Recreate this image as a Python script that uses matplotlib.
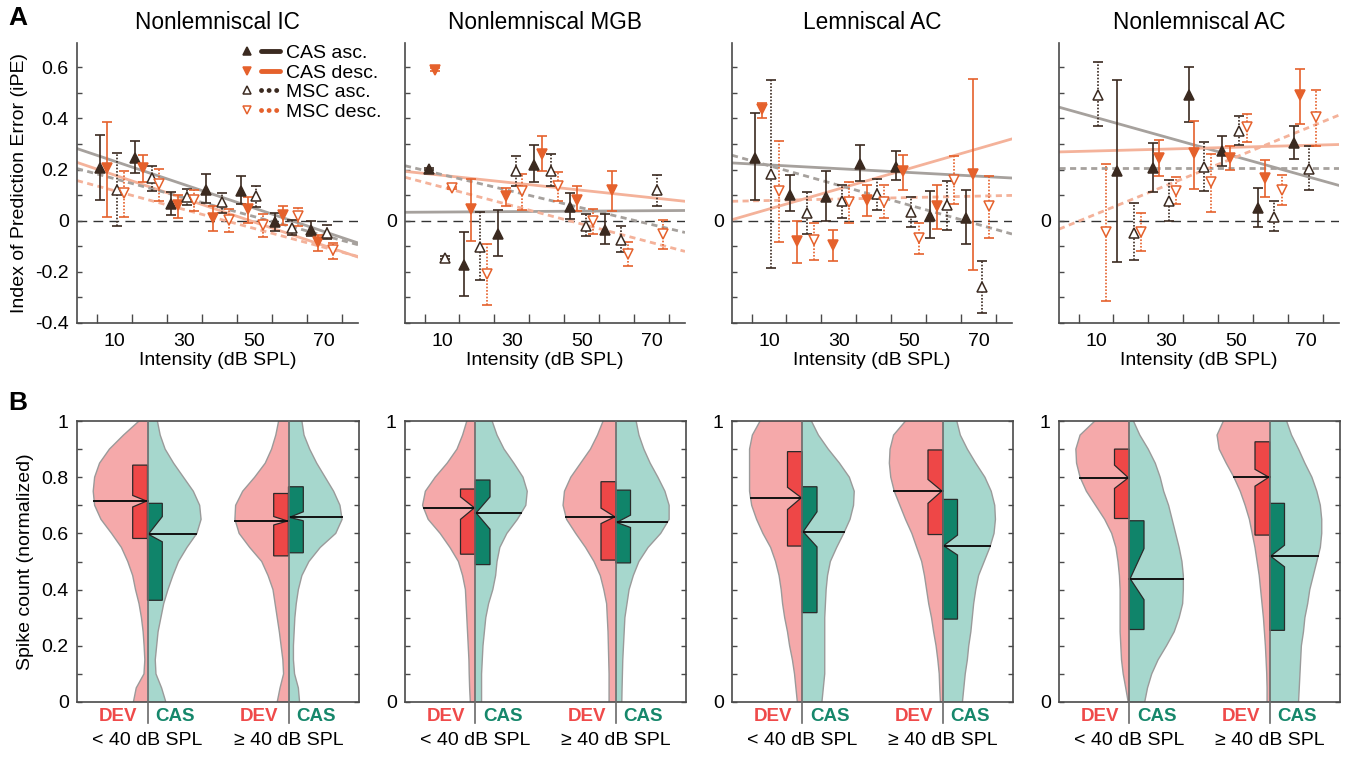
import numpy as np
import matplotlib
matplotlib.use("Agg")
import matplotlib.pyplot as plt
from matplotlib.lines import Line2D
from matplotlib.legend_handler import HandlerTuple
from matplotlib.patches import Polygon

plt.rcParams['font.family'] = ['Liberation Sans', 'DejaVu Sans']

# ---------------- Panel A data: (intensity, iPE, lower, upper) ----------------
ic_cas_asc = [(6.0, 0.206, 0.082, 0.337), (16.0, 0.245, 0.187, 0.313), (26.2, 0.067, 0.023, 0.111),
              (36.2, 0.121, 0.069, 0.183), (46.2, 0.115, 0.067, 0.174), (56.0, -0.005, -0.039, 0.030),
              (66.2, -0.035, -0.061, -0.003)]
ic_cas_desc = [(8.0, 0.206, 0.014, 0.385), (18.1, 0.206, 0.150, 0.258), (28.1, 0.060, 0.010, 0.102),
               (38.1, 0.010, -0.042, 0.056), (48.1, 0.047, -0.009, 0.093), (58.1, 0.023, -0.018, 0.056),
               (68.1, -0.084, -0.117, -0.056)]
ic_msc_asc = [(10.7, 0.121, -0.020, 0.265), (20.7, 0.166, 0.117, 0.215), (30.7, 0.093, 0.060, 0.124),
              (40.8, 0.072, 0.030, 0.108), (50.6, 0.095, 0.054, 0.137), (60.7, -0.029, -0.057, 0.001),
              (70.7, -0.048, -0.072, -0.018)]
ic_msc_desc = [(12.9, 0.108, 0.013, 0.193), (22.9, 0.144, 0.076, 0.202), (32.9, 0.082, 0.039, 0.121),
               (42.7, 0.001, -0.046, 0.046), (52.6, -0.016, -0.064, 0.026), (62.6, 0.020, -0.022, 0.050),
               (72.6, -0.114, -0.149, -0.087)]
ic_fit = [(0.282, -0.087), (0.228, -0.142), (0.204, -0.094), (0.157, -0.140)]

mgb_cas_asc = [(6.15, 0.202, 0.197, 0.207), (16.4, -0.175, -0.296, -0.046), (26.0, -0.051, -0.137, 0.043),
               (36.4, 0.219, 0.150, 0.298), (46.6, 0.054, 0.007, 0.108), (56.8, -0.038, -0.091, 0.026)]
mgb_cas_desc = [(8.1, 0.591, 0.586, 0.597), (18.2, 0.046, -0.081, 0.163), (28.4, 0.095, 0.059, 0.128),
                (38.5, 0.262, 0.193, 0.330), (48.7, 0.082, 0.037, 0.134), (58.7, 0.121, 0.037, 0.193)]
mgb_msc_asc = [(11.0, -0.144, -0.150, -0.139), (20.9, -0.103, -0.231, 0.033), (31.1, 0.193, 0.137, 0.255),
               (41.2, 0.196, 0.137, 0.262), (51.3, -0.020, -0.061, 0.026), (61.2, -0.074, -0.124, -0.022),
               (71.5, 0.119, 0.059, 0.178)]
mgb_msc_desc = [(12.9, 0.128, 0.123, 0.133), (23.0, -0.208, -0.329, -0.091), (33.0, 0.115, 0.043, 0.184),
                (43.3, 0.134, 0.076, 0.191), (53.2, 0.000, -0.052, 0.046), (63.3, -0.129, -0.179, -0.085),
                (73.4, -0.052, -0.111, 0.001)]
mgb_fit = [(0.033, 0.040), (0.193, 0.076), (0.215, -0.046), (0.170, -0.120)]

lac_cas_asc = [(5.95, 0.245, 0.080, 0.422), (16.0, 0.102, 0.037, 0.180), (26.2, 0.093, 0.000, 0.193),
               (36.2, 0.222, 0.154, 0.298), (46.3, 0.209, 0.158, 0.272), (56.1, 0.017, -0.068, 0.115),
               (66.3, 0.010, -0.090, 0.121)]
lac_cas_desc = [(8.1, 0.437, 0.402, 0.461), (18.1, -0.081, -0.166, -0.003), (28.2, -0.094, -0.159, -0.035),
                (38.2, 0.082, 0.017, 0.138), (48.3, 0.193, 0.119, 0.258), (58.2, 0.056, -0.033, 0.138),
                (68.5, 0.184, -0.192, 0.555)]
lac_msc_asc = [(10.5, 0.184, -0.185, 0.552), (20.8, 0.030, -0.051, 0.111), (30.8, 0.076, 0.010, 0.141),
               (40.8, 0.104, 0.040, 0.163), (50.7, 0.034, -0.026, 0.091), (60.9, 0.063, -0.035, 0.157),
               (71.1, -0.260, -0.359, -0.159)]
lac_msc_desc = [(12.8, 0.115, -0.084, 0.311), (22.9, -0.077, -0.153, -0.007), (33.0, 0.072, -0.009, 0.150),
                (42.9, 0.072, 0.010, 0.138), (53.0, -0.068, -0.129, -0.009), (63.1, 0.161, 0.065, 0.255),
                (73.0, 0.056, -0.068, 0.174)]
lac_fit = [(0.226, 0.167), (0.004, 0.320), (0.256, -0.052), (0.076, 0.099)]

nac_cas_asc = [(16.1, 0.193, -0.162, 0.552), (26.2, 0.206, 0.111, 0.304), (36.6, 0.490, 0.385, 0.600),
               (46.2, 0.272, 0.213, 0.333), (56.3, 0.050, -0.025, 0.128), (66.6, 0.304, 0.242, 0.372)]
nac_cas_desc = [(28.1, 0.245, 0.174, 0.317), (38.0, 0.265, 0.125, 0.389), (48.4, 0.245, 0.200, 0.294),
                (58.4, 0.167, 0.091, 0.239), (68.5, 0.493, 0.379, 0.594)]
nac_msc_asc = [(10.7, 0.490, 0.369, 0.620), (20.9, -0.048, -0.153, 0.069), (31.0, 0.076, 0.000, 0.158),
               (40.9, 0.209, 0.117, 0.307), (51.0, 0.352, 0.298, 0.409), (61.1, 0.013, -0.042, 0.076),
               (71.1, 0.202, 0.119, 0.291)]
nac_msc_desc = [(12.8, -0.044, -0.313, 0.222), (22.8, -0.044, -0.120, 0.030), (32.9, 0.117, 0.065, 0.170),
                (42.9, 0.150, 0.033, 0.262), (53.2, 0.366, 0.308, 0.418), (63.2, 0.121, 0.060, 0.178),
                (73.1, 0.405, 0.294, 0.510)]
nac_fit = [(0.444, 0.138), (0.269, 0.298), (0.206, 0.206), (-0.033, 0.413)]

titles = ["Nonlemniscal IC", "Nonlemniscal MGB", "Lemniscal AC", "Nonlemniscal AC"]
series_labels = ["CAS asc.", "CAS desc.", "MSC asc.", "MSC desc."]
x_ticklabels = [10, 30, 50, 70]

# ---------------- Panel B data: half-violin widths at spike count 0, 0.05, ..., 1 ----------------
levels = np.linspace(0, 1, 21)
ic_lo_dev = [0.20, 0.16, 0.05, 0.038, 0.048, 0.062, 0.086, 0.12, 0.17, 0.21, 0.28, 0.37, 0.51, 0.66, 0.75, 0.77, 0.75, 0.68, 0.54, 0.34, 0.12]
ic_lo_cas = [0.26, 0.20, 0.12, 0.11, 0.13, 0.15, 0.19, 0.23, 0.29, 0.36, 0.44, 0.56, 0.70, 0.76, 0.74, 0.65, 0.51, 0.37, 0.25, 0.18, 0.14]
ic_hi_dev = [0.16, 0.12, 0.07, 0.08, 0.105, 0.13, 0.16, 0.19, 0.22, 0.29, 0.38, 0.55, 0.70, 0.76, 0.75, 0.65, 0.48, 0.33, 0.24, 0.18, 0.14]
ic_hi_cas = [0.157, 0.14, 0.086, 0.07, 0.07, 0.08, 0.09, 0.11, 0.14, 0.19, 0.29, 0.45, 0.67, 0.76, 0.73, 0.64, 0.52, 0.40, 0.30, 0.22, 0.19]
mgb_lo_dev = [0.07, 0.08, 0.086, 0.09, 0.10, 0.11, 0.12, 0.13, 0.14, 0.18, 0.24, 0.36, 0.50, 0.67, 0.75, 0.71, 0.57, 0.40, 0.26, 0.18, 0.12]
mgb_lo_cas = [0.09, 0.09, 0.09, 0.10, 0.11, 0.13, 0.15, 0.19, 0.25, 0.29, 0.31, 0.35, 0.45, 0.60, 0.72, 0.74, 0.68, 0.55, 0.41, 0.31, 0.24]
mgb_hi_dev = [0.095, 0.095, 0.095, 0.10, 0.105, 0.11, 0.12, 0.13, 0.17, 0.22, 0.31, 0.43, 0.57, 0.70, 0.75, 0.73, 0.64, 0.50, 0.36, 0.26, 0.18]
mgb_hi_cas = [0.086, 0.09, 0.095, 0.10, 0.11, 0.12, 0.13, 0.16, 0.19, 0.25, 0.33, 0.46, 0.64, 0.76, 0.76, 0.70, 0.60, 0.49, 0.40, 0.33, 0.29]
lac_lo_dev = [0.07, 0.09, 0.11, 0.14, 0.18, 0.21, 0.25, 0.28, 0.30, 0.33, 0.38, 0.45, 0.56, 0.65, 0.72, 0.75, 0.75, 0.75, 0.75, 0.71, 0.60]
lac_lo_cas = [0.28, 0.30, 0.32, 0.32, 0.32, 0.32, 0.32, 0.33, 0.34, 0.36, 0.40, 0.49, 0.59, 0.68, 0.73, 0.74, 0.67, 0.53, 0.37, 0.23, 0.13]
lac_hi_dev = [0.033, 0.043, 0.05, 0.07, 0.095, 0.13, 0.16, 0.20, 0.23, 0.26, 0.30, 0.37, 0.44, 0.53, 0.61, 0.69, 0.74, 0.76, 0.75, 0.70, 0.53]
lac_hi_cas = [0.28, 0.30, 0.32, 0.35, 0.37, 0.40, 0.42, 0.44, 0.47, 0.51, 0.59, 0.67, 0.73, 0.75, 0.74, 0.69, 0.60, 0.47, 0.35, 0.25, 0.20]
nac_lo_dev = [0.015, 0.05, 0.086, 0.11, 0.12, 0.13, 0.13, 0.13, 0.13, 0.14, 0.16, 0.19, 0.25, 0.35, 0.48, 0.61, 0.70, 0.75, 0.76, 0.70, 0.49]
nac_lo_cas = [0.22, 0.26, 0.32, 0.41, 0.53, 0.64, 0.71, 0.76, 0.77, 0.77, 0.75, 0.71, 0.66, 0.61, 0.56, 0.49, 0.44, 0.37, 0.27, 0.15, 0.06]
nac_hi_dev = [0.038, 0.038, 0.043, 0.052, 0.062, 0.076, 0.09, 0.11, 0.13, 0.15, 0.18, 0.21, 0.25, 0.29, 0.35, 0.42, 0.51, 0.62, 0.72, 0.75, 0.66]
nac_hi_cas = [0.41, 0.42, 0.43, 0.44, 0.45, 0.48, 0.50, 0.54, 0.57, 0.62, 0.67, 0.72, 0.74, 0.74, 0.72, 0.67, 0.60, 0.50, 0.41, 0.31, 0.24]

# box stats per half: (q1, notch_low, median, notch_high, q3); order: <40 DEV, <40 CAS, >=40 DEV, >=40 CAS
ic_boxes = [(0.582, 0.694, 0.715, 0.735, 0.843), (0.362, 0.570, 0.597, 0.660, 0.707),
            (0.520, 0.630, 0.644, 0.660, 0.742), (0.531, 0.645, 0.657, 0.677, 0.766)]
mgb_boxes = [(0.526, 0.650, 0.691, 0.730, 0.758), (0.489, 0.615, 0.673, 0.730, 0.790),
             (0.505, 0.635, 0.659, 0.690, 0.784), (0.495, 0.621, 0.639, 0.665, 0.754)]
lac_boxes = [(0.555, 0.685, 0.727, 0.764, 0.891), (0.318, 0.552, 0.606, 0.677, 0.766),
             (0.596, 0.707, 0.751, 0.792, 0.897), (0.295, 0.523, 0.556, 0.594, 0.721)]
nac_boxes = [(0.653, 0.760, 0.798, 0.843, 0.900), (0.258, 0.364, 0.439, 0.546, 0.645),
             (0.594, 0.768, 0.800, 0.828, 0.926), (0.255, 0.481, 0.519, 0.558, 0.707)]
group_labels = ["< 40 dB SPL", "\u2265 40 dB SPL"]
positions = [1, 3]

# ---------------- styling ----------------
DARK = '#3b2a20'
ORANGE = '#e5612c'
FIT_ASC = '#a6a19d'
FIT_DESC = '#f4b29a'
SPINE = '#4a4a4a'
DEV_FILL = '#f5a9aa'
CAS_FILL = '#a6d7cd'
DEV_BOX = '#ee4747'
CAS_BOX = '#10846a'
DEV_TXT = '#ef4a4a'
CAS_TXT = '#16876b'
FS = 14

W, H = 1353, 757
fig = plt.figure(figsize=(W / 100, H / 100), dpi=100)


def px_axes(l, r, t, b):
    return fig.add_axes([l / W, 1 - b / H, (r - l) / W, (b - t) / H])


cols = [(77, 358), (405, 685), (732, 1012), (1059, 1339)]

top_data = [
    ([ic_cas_asc, ic_cas_desc, ic_msc_asc, ic_msc_desc], ic_fit),
    ([mgb_cas_asc, mgb_cas_desc, mgb_msc_asc, mgb_msc_desc], mgb_fit),
    ([lac_cas_asc, lac_cas_desc, lac_msc_asc, lac_msc_desc], lac_fit),
    ([nac_cas_asc, nac_cas_desc, nac_msc_asc, nac_msc_desc], nac_fit),
]
styles = [  # marker, color, filled, dotted, fitcolor
    ('^', DARK, True, False, FIT_ASC),
    ('v', ORANGE, True, False, FIT_DESC),
    ('^', DARK, False, True, FIT_ASC),
    ('v', ORANGE, False, True, FIT_DESC),
]
XLIM = (-0.6, 79.6)

for i, ((l, r), (series, fits)) in enumerate(zip(cols, top_data)):
    ax = px_axes(l, r, 43, 323)
    ax.set_xlim(*XLIM)
    ax.set_ylim(-0.4, 0.695)
    ax.axhline(0, color='#333333', lw=1.0, dashes=(7, 4.5), zorder=1)
    for (marker, color, filled, dotted, fcol), (y0, y1) in zip(styles, fits):
        ax.plot(XLIM, [y0, y1], color=fcol, lw=2.0,
                ls=(0, (2.2, 1.6)) if dotted else '-', zorder=2)
    for pts, (marker, color, filled, dotted, fcol) in zip(series, styles):
        arr = np.array(pts)
        x, y, lo, hi = arr.T
        eb = ax.errorbar(x, y, yerr=np.vstack([y - lo, hi - y]), fmt='none', ecolor=color,
                         elinewidth=1.2, capsize=3.5, capthick=1.2, zorder=3)
        if dotted:
            eb[2][0].set_linestyle((0, (1.0, 1.0)))
        ax.plot(x, y, ls='none', marker=marker, ms=7, mfc=color if filled else 'white',
                mec=color, mew=1.1, zorder=4)
    for s in ['top', 'right']:
        ax.spines[s].set_visible(False)
    for s in ['left', 'bottom']:
        ax.spines[s].set_color(SPINE)
        ax.spines[s].set_linewidth(1.2)
    ax.set_xticks(x_ticklabels)
    ax.set_xticklabels([str(v) for v in x_ticklabels], fontsize=FS)
    ax.set_xticks(np.arange(5, 80, 10), minor=True)
    ax.tick_params(axis='x', which='major', length=0, pad=7)
    ax.tick_params(axis='x', which='minor', direction='in', length=6.5, width=1.0, color=SPINE)
    yt = np.round(np.arange(-0.4, 0.61, 0.1), 1)
    ax.set_yticks(yt)
    if i == 0:
        ax.set_yticklabels([('0' if abs(v) < 1e-9 else f'{v:g}') if (round(v * 10) % 2 == 0) else '' for v in yt],
                           fontsize=FS)
        ax.set_ylabel('Index of Prediction Error (iPE)', fontsize=FS, labelpad=5)
    else:
        ax.set_yticklabels(['0' if abs(v) < 1e-9 else '' for v in yt], fontsize=FS)
    ax.tick_params(axis='y', direction='in', length=3.5, width=1.0, color=SPINE, pad=6)
    ax.set_xlabel('Intensity (dB SPL)', fontsize=FS, labelpad=2)
    ax.set_title(titles[i], fontsize=16.3, pad=10)
    if i == 0:
        handles = []
        for (marker, color, filled, dotted, fcol) in styles:
            mk = Line2D([], [], ls='none', marker=marker, ms=6, mfc=color if filled else 'white',
                        mec=color, mew=1.1)
            if dotted:
                ln = Line2D([], [], color=color, lw=3.5, ls=(0, (0.01, 1.55)), dash_capstyle='round')
            else:
                ln = Line2D([], [], color=color, lw=3.5, solid_capstyle='round')
            handles.append((mk, ln))
        ax.legend(handles, series_labels, handler_map={tuple: HandlerTuple(ndivide=None, pad=0.25)},
                  loc='upper left', bbox_to_anchor=(0.57, 0.995), frameon=False, fontsize=FS,
                  handlelength=2.2, handletextpad=0.3, labelspacing=0.1, borderaxespad=0, borderpad=0)

# ---------------- Panel B ----------------
bottom_data = [
    ([ic_lo_dev, ic_lo_cas, ic_hi_dev, ic_hi_cas], ic_boxes),
    ([mgb_lo_dev, mgb_lo_cas, mgb_hi_dev, mgb_hi_cas], mgb_boxes),
    ([lac_lo_dev, lac_lo_cas, lac_hi_dev, lac_hi_cas], lac_boxes),
    ([nac_lo_dev, nac_lo_cas, nac_hi_dev, nac_hi_cas], nac_boxes),
]
BW = 0.21

for i, ((l, r), (widths, boxes)) in enumerate(zip(cols, bottom_data)):
    ax = px_axes(l, r + 1, 421, 702)
    ax.set_xlim(0, 4)
    ax.set_ylim(0, 1)
    for k in range(4):
        pos = positions[k // 2]
        side = -1 if k % 2 == 0 else 1
        fill = DEV_FILL if side < 0 else CAS_FILL
        boxc = DEV_BOX if side < 0 else CAS_BOX
        w = np.asarray(widths[k])
        ax.fill_betweenx(levels, pos, pos + side * w, facecolor=fill, edgecolor='none', zorder=1)
        ax.plot(pos + side * w, levels, color='#9a9a9a', lw=1.0, zorder=2)
        q1, nlo, med, nhi, q3 = boxes[k]
        xs = [pos, pos + side * BW, pos + side * BW, pos + side * BW * 0.06, pos + side * BW,
              pos + side * BW, pos]
        ys = [q1, q1, nlo, med, nhi, q3, q3]
        ax.add_patch(Polygon(np.column_stack([xs, ys]), closed=True, facecolor=boxc,
                             edgecolor='#2a2a2a', lw=0.9, zorder=3))
        wm = np.interp(med, levels, w)
        ax.plot([pos, pos + side * wm], [med, med], color='#111111', lw=1.4, zorder=4)
    trans = ax.get_xaxis_transform()
    for j, pos in enumerate(positions):
        ax.plot([pos, pos], [-0.075, 1.0], transform=trans, color='#6a6a6a', lw=1.2,
                clip_on=False, zorder=5)
        ax.text(pos - 0.14, -0.053, 'DEV', transform=trans, ha='right', va='center',
                color=DEV_TXT, fontsize=13.5, fontweight='bold')
        ax.text(pos + 0.11, -0.053, 'CAS', transform=trans, ha='left', va='center',
                color=CAS_TXT, fontsize=13.5, fontweight='bold')
        ax.text(pos, -0.137, group_labels[j], transform=trans, ha='center', va='center',
                fontsize=FS)
    for s in ax.spines.values():
        s.set_color(SPINE)
        s.set_linewidth(1.2)
    ax.set_xticks([])
    yt = np.round(np.arange(0, 1.01, 0.1), 1)
    ax.set_yticks(yt)
    if i == 0:
        ax.set_yticklabels([('0' if v == 0 else ('1' if v == 1 else f'{v:g}')) if round(v * 10) % 2 == 0 else ''
                            for v in yt], fontsize=FS)
        ax.set_ylabel('Spike count (normalized)', fontsize=FS, labelpad=5)
    else:
        ax.set_yticklabels(['0' if v == 0 else ('1' if v == 1 else '') for v in yt], fontsize=FS)
    ax.tick_params(axis='y', direction='in', length=3.5, width=1.0, color=SPINE, pad=6,
                   right=True)

fig.text(8 / W, 1 - 18 / H, 'A', fontsize=19, fontweight='bold', va='center', ha='left')
fig.text(8 / W, 1 - 403 / H, 'B', fontsize=19, fontweight='bold', va='center', ha='left')

fig.savefig('out.png', dpi=100)
